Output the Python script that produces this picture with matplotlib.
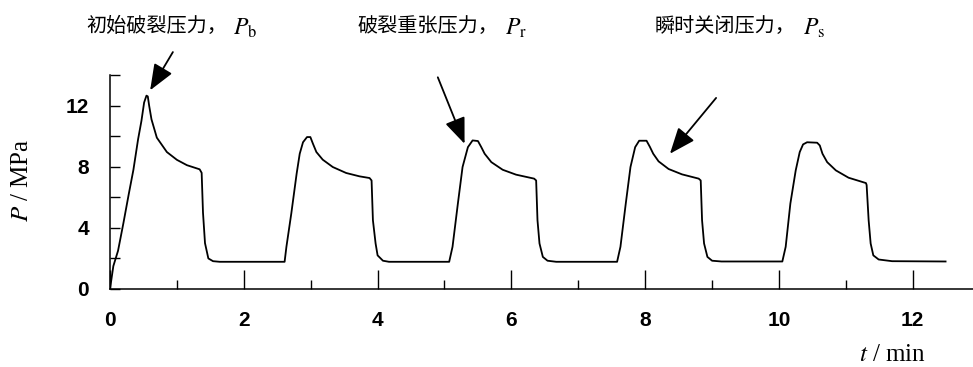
import matplotlib
matplotlib.use("Agg")
import matplotlib.pyplot as plt
from matplotlib.ticker import MultipleLocator, FixedLocator

plt.rcParams['mathtext.fontset'] = 'stix'

# ---- data ----
t_min = [0.0, 0.05, 0.12, 0.2, 0.28, 0.35, 0.42, 0.47, 0.51, 0.545, 0.565, 0.585, 0.62, 0.7,
         0.85, 1.0, 1.15, 1.34, 1.37, 1.39, 1.42, 1.47, 1.54, 1.64, 2.61,
         2.637, 2.71, 2.79, 2.836, 2.885, 2.945, 2.995, 3.034, 3.085, 3.18, 3.33, 3.53, 3.73, 3.88,
         3.91, 3.93, 3.97, 4.0, 4.08, 4.17, 5.07,
         5.12, 5.2, 5.27, 5.35, 5.42, 5.50, 5.55, 5.6, 5.70, 5.87, 6.07, 6.34,
         6.37, 6.39, 6.42, 6.47, 6.54, 6.67, 7.58,
         7.63, 7.71, 7.78, 7.85, 7.91, 8.02, 8.07, 8.12, 8.2, 8.35, 8.55, 8.8,
         8.83, 8.85, 8.88, 8.93, 9.0, 9.14, 10.05,
         10.1, 10.17, 10.25, 10.31, 10.36, 10.42, 10.57, 10.61, 10.65, 10.72, 10.85, 11.04, 11.3,
         11.31, 11.34, 11.37, 11.41, 11.49, 11.69, 12.49]
p_mpa = [0.0, 1.5, 2.5, 4.3, 6.2, 7.8, 9.8, 11.0, 12.2, 12.65, 12.6, 12.0, 11.1, 9.9,
         8.96, 8.45, 8.1, 7.83, 7.6, 5.0, 3.0, 2.0, 1.82, 1.78, 1.78,
         2.76, 4.94, 7.55, 8.85, 9.6, 9.94, 9.94, 9.5, 8.96, 8.46, 7.98, 7.59, 7.37, 7.26,
         7.1, 4.5, 2.98, 2.2, 1.85, 1.78, 1.78,
         2.76, 5.59, 7.98, 9.28, 9.72, 9.68, 9.28, 8.85, 8.3, 7.8, 7.48, 7.22,
         7.1, 4.5, 2.98, 2.1, 1.85, 1.78, 1.78,
         2.76, 5.6, 7.98, 9.28, 9.7, 9.7, 9.3, 8.85, 8.35, 7.85, 7.5, 7.22,
         7.1, 4.5, 2.98, 2.1, 1.85, 1.8, 1.8,
         2.76, 5.59, 7.76, 8.96, 9.46, 9.6, 9.57, 9.39, 8.85, 8.3, 7.76, 7.28, 6.93,
         6.8, 4.5, 2.98, 2.2, 1.93, 1.82, 1.8]

x_ticks = [0, 2, 4, 6, 8, 10, 12]
y_ticks = [0, 4, 8, 12]
label_texts = ["初始破裂压力，", "破裂重张压力，", "瞬时关闭压力，"]
label_symbols = ["$P_\\mathrm{b}$", "$P_\\mathrm{r}$", "$P_\\mathrm{s}$"]
arrow_heads = [(0.60, 13.0), (5.30, 9.5), (8.37, 8.85)]
arrow_tails = [(0.94, 15.5), (4.90, 13.85), (9.06, 12.5)]

fig = plt.figure(figsize=(9.73, 3.67), dpi=100)
ax = fig.add_axes([110/973, 78/367, (973-110)/973, 214/367])

ax.plot(t_min, p_mpa, color='black', lw=1.3, solid_joinstyle='round')
ax.set_xlim(0, 12.9)
ax.set_ylim(0, 14)

for s in ['top', 'right']:
    ax.spines[s].set_visible(False)
for s in ['left', 'bottom']:
    ax.spines[s].set_linewidth(1.1)

ax.xaxis.set_major_locator(FixedLocator(x_ticks))
ax.xaxis.set_minor_locator(MultipleLocator(1))
ax.yaxis.set_major_locator(FixedLocator(y_ticks))
ax.yaxis.set_minor_locator(FixedLocator([2, 6, 10, 14]))
ax.tick_params(axis='x', which='major', direction='in', length=14, width=1.0, pad=16,
               labelsize=15)
ax.tick_params(axis='x', which='minor', direction='in', length=6.5, width=1.0)
ax.tick_params(axis='y', which='both', direction='in', length=7, width=1.0, pad=15,
               labelsize=15)
for lab in ax.get_xticklabels() + ax.get_yticklabels():
    lab.set_family('Liberation Sans')
    lab.set_fontweight('bold')

fig.text(22/973, 1 - 180/367, "$P$ / MPa", rotation=90, ha='center', va='center',
         family='Liberation Serif', fontsize=18)
fig.text(892/973, 1 - 355/367, "$t$ / min", ha='center', va='center',
         family='Liberation Serif', fontsize=18)

label_x = [86, 357, 655]
sym_x = [233, 505, 803]
for lx, sx, txt, sym in zip(label_x, sym_x, label_texts, label_symbols):
    fig.text(lx/973, 1 - 26/367, txt, ha='left', va='center',
             family=['Noto Sans CJK SC', 'DejaVu Sans'], fontsize=14.5)
    fig.text(sx/973, 1 - 35/367, sym, ha='left', va='baseline', fontsize=17)

for (hx, hy), (tx, ty) in zip(arrow_heads, arrow_tails):
    ax.annotate("", xy=(hx, hy), xytext=(tx, ty), xycoords='data', textcoords='data',
                annotation_clip=False,
                arrowprops=dict(arrowstyle='-|>,head_length=1.0,head_width=0.4',
                                color='black', lw=1.3, mutation_scale=16,
                                shrinkA=0, shrinkB=0))

fig.savefig("out.png", dpi=100)
